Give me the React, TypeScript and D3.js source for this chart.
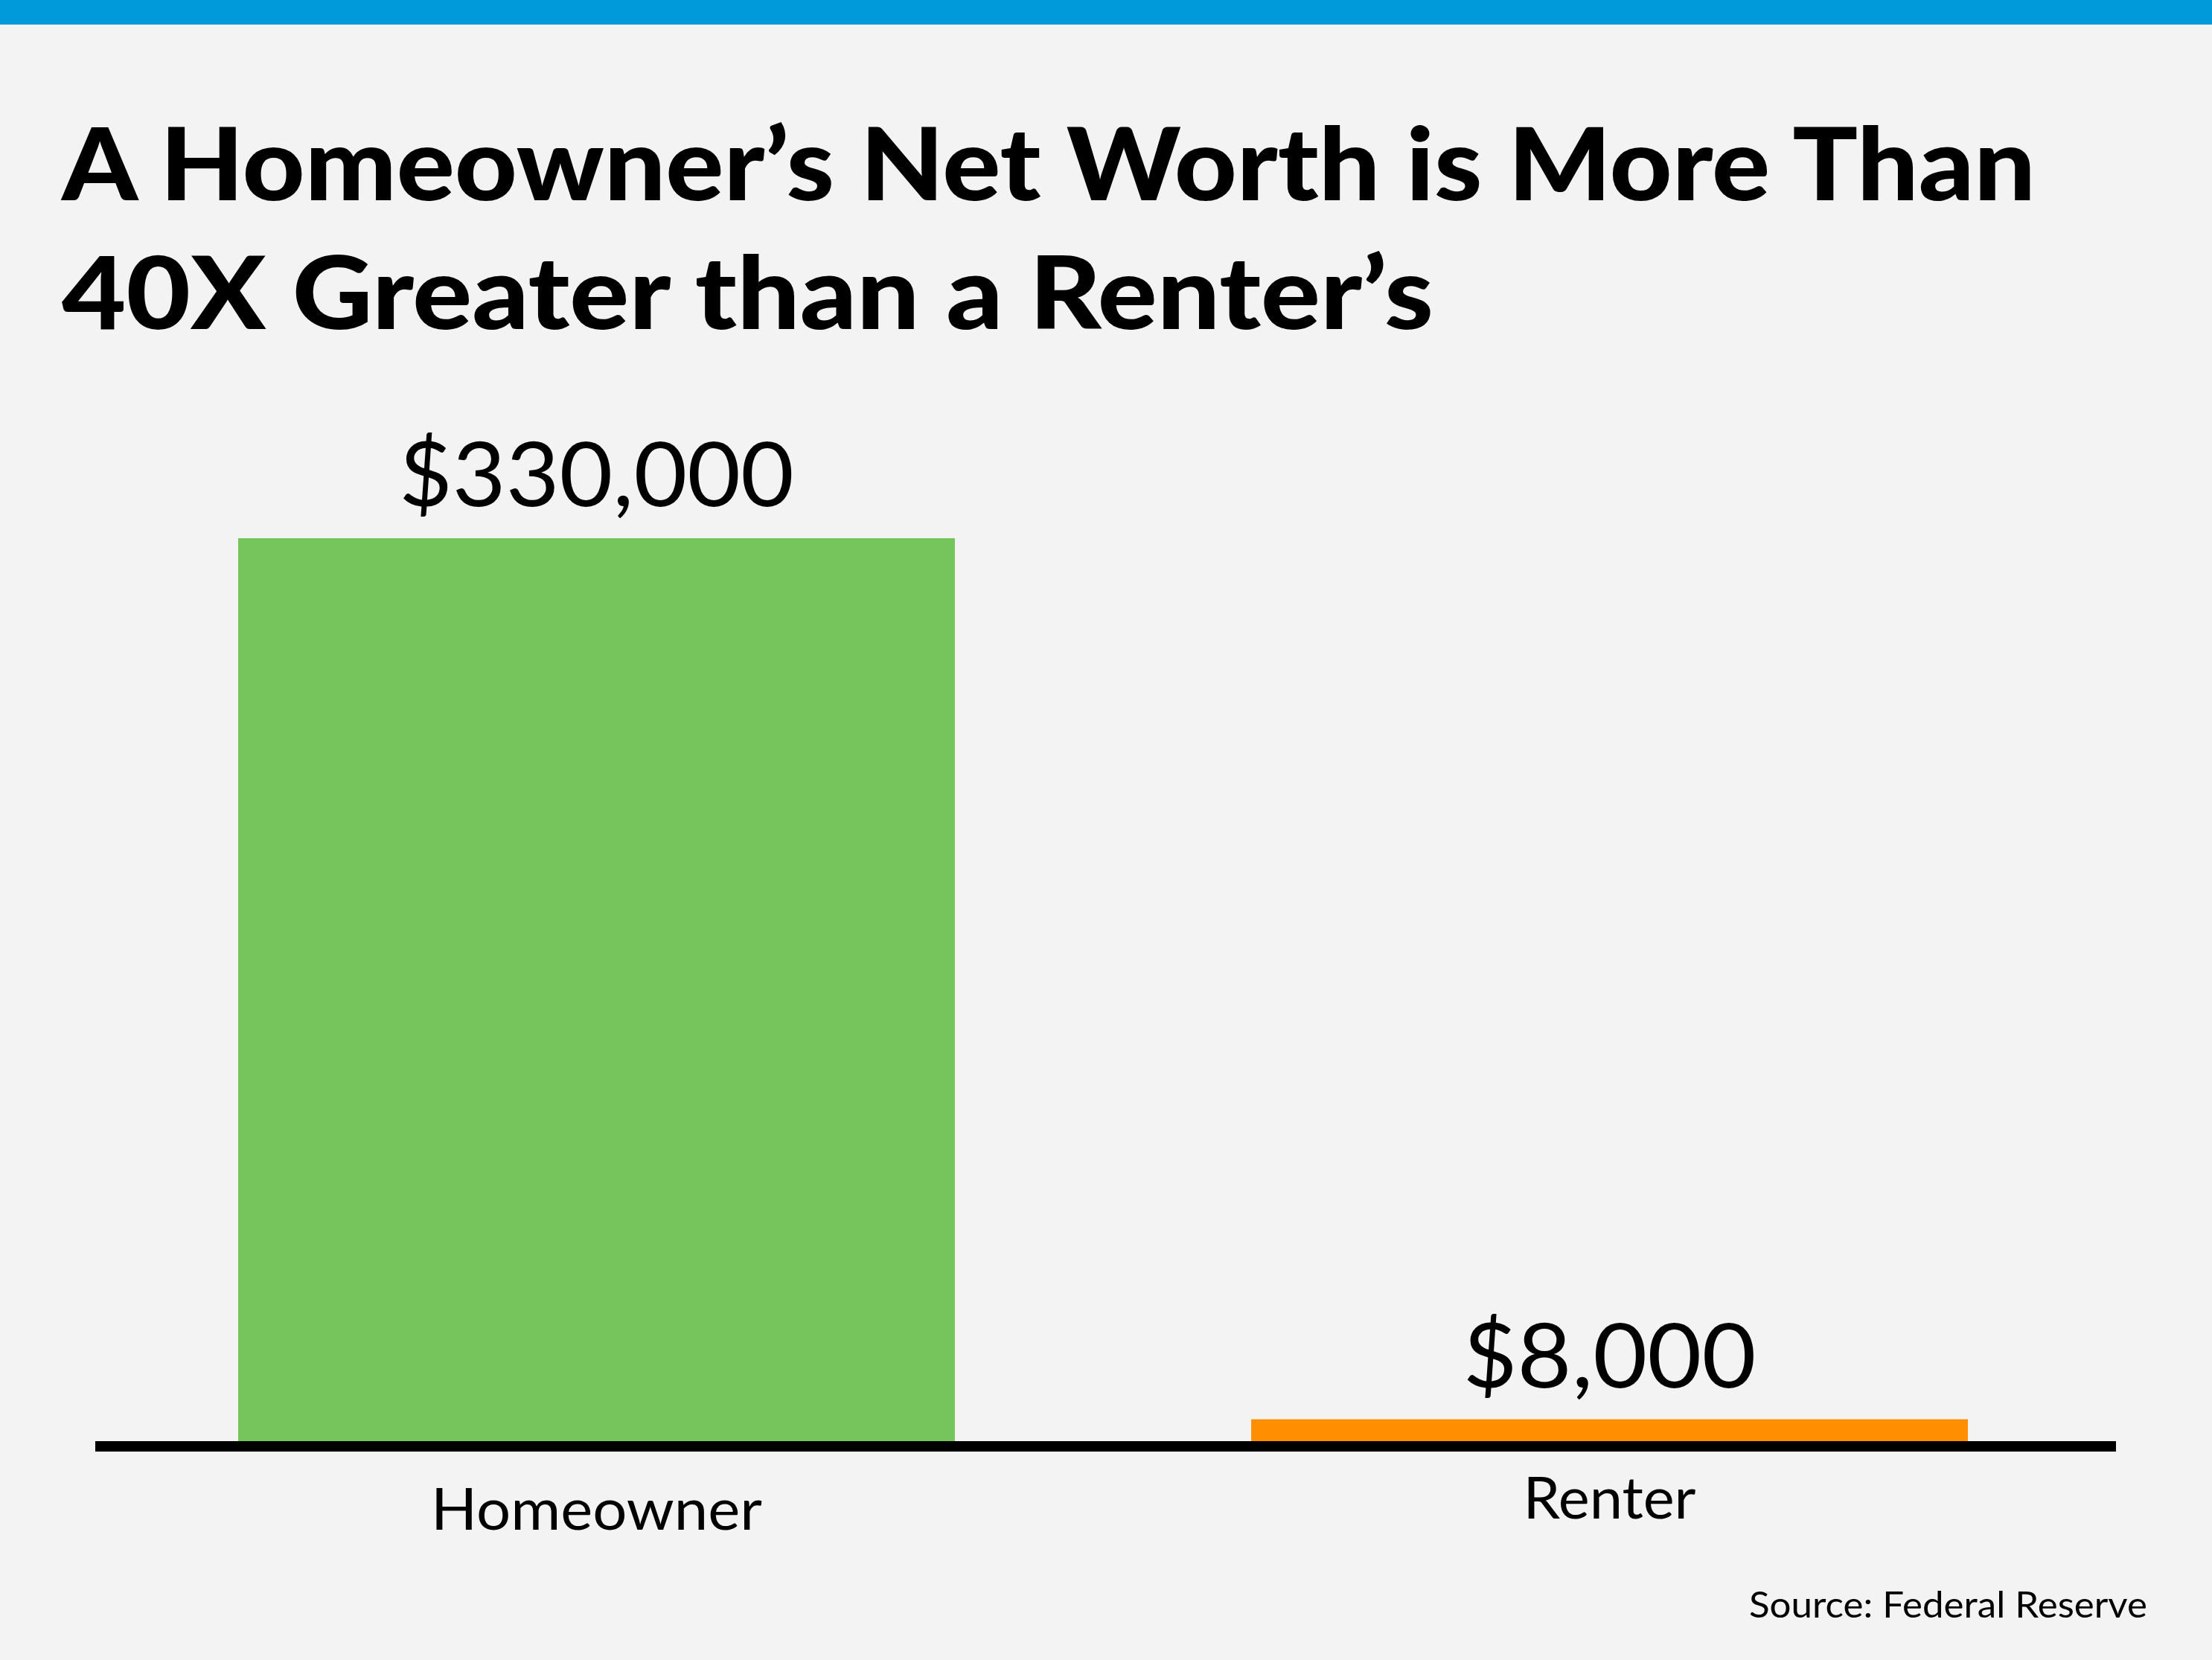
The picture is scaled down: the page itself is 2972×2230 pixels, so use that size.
import React from "react";
import * as d3 from "d3";

const categories = ["Homeowner", "Renter"];
const values = [330000, 8000];
const valueLabels = ["$330,000", "$8,000"];
const barColors = ["#75C45C", "#FF8F00"];
const titleLines = ["A Homeowner’s Net Worth is More Than", "40X Greater than a Renter’s"];
const sourceText = "Source: Federal Reserve";

const W = 2972;
const H = 2230;

export default function App() {
  const x = d3.scaleBand<string>().domain(categories).range([320, 2644]).paddingInner(0.2925).paddingOuter(0);
  const y = d3.scaleLinear().domain([0, 330000]).range([1936, 723]);
  const bw = x.bandwidth();
  const font = "Lato, 'Noto Sans', sans-serif";
  const valueWidths = [531, 394];
  const catWidths = [445, 232];
  const catBaselines = [2055, 2040];
  return (
    <svg width={W} height={H} style={{ position: "absolute", left: 0, top: 0 }} fontFamily={font}>
      <rect x={0} y={0} width={W} height={H} fill="#F3F3F3" />
      <rect x={0} y={0} width={W} height={33} fill="#0099DA" />
      <text x={83} y={269} fontSize={136} fontWeight={900} fill="#000" textLength={2652} lengthAdjust="spacingAndGlyphs">
        {titleLines[0]}
      </text>
      <text x={83} y={442} fontSize={136} fontWeight={900} fill="#000" textLength={1843} lengthAdjust="spacingAndGlyphs">
        {titleLines[1]}
      </text>
      {categories.map((c, i) => (
        <g key={c}>
          <rect x={x(c)} y={y(values[i])} width={bw} height={y(0) - y(values[i])} fill={barColors[i]} />
          <text
            x={(x(c) as number) + bw / 2}
            y={y(values[i]) - 43}
            fontSize={120}
            textAnchor="middle"
            fill="#000"
            textLength={valueWidths[i]}
            lengthAdjust="spacingAndGlyphs"
          >
            {valueLabels[i]}
          </text>
          <text
            x={(x(c) as number) + bw / 2}
            y={catBaselines[i]}
            fontSize={78}
            textAnchor="middle"
            fill="#000"
            textLength={catWidths[i]}
            lengthAdjust="spacingAndGlyphs"
          >
            {c}
          </text>
        </g>
      ))}
      <rect x={128} y={y(0)} width={2843 - 128} height={14} fill="#000" />
      <text x={2885} y={2173} fontSize={49} textAnchor="end" fill="#000" textLength={535} lengthAdjust="spacingAndGlyphs">
        {sourceText}
      </text>
    </svg>
  );
}
